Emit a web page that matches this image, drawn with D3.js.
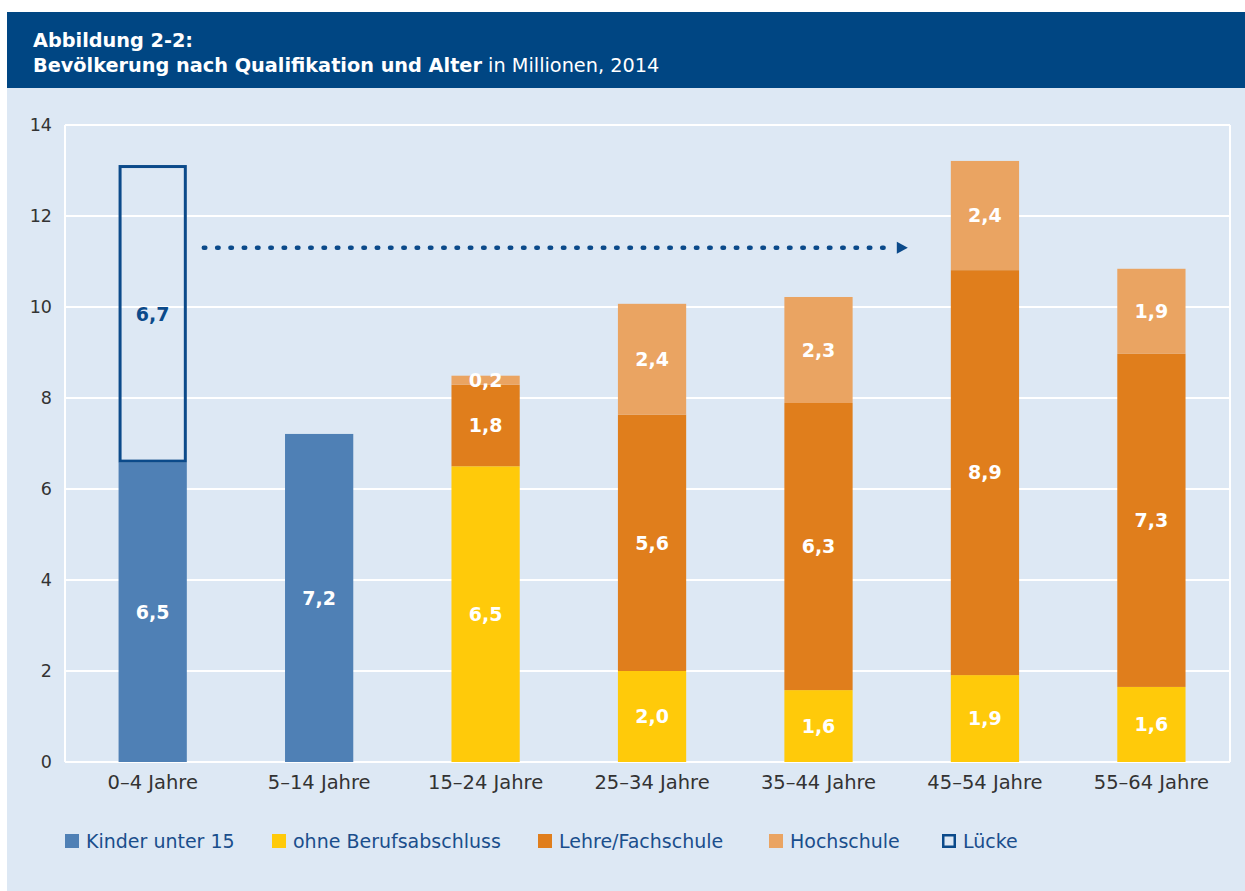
<!DOCTYPE html>
<html><head><meta charset="utf-8">
<script src="https://cdn.jsdelivr.net/npm/d3@7/dist/d3.min.js"></script>
<style>
html,body{margin:0;padding:0;background:#fff;}
svg{display:block;font-family:"DejaVu Sans",Verdana,sans-serif;}
</style></head>
<body><svg id="c" width="1245" height="891"></svg>
<script>
// ---- data ----
const categories = ["0–4 Jahre","5–14 Jahre","15–24 Jahre","25–34 Jahre","35–44 Jahre","45–54 Jahre","55–64 Jahre"];
const kinder      = [6.58, 7.21, 0, 0, 0, 0, 0];
const kinderLbl   = ["6,5","7,2","","","","",""];
const ohne        = [0, 0, 6.5, 2.0, 1.58, 1.91, 1.65];
const ohneLbl     = ["","","6,5","2,0","1,6","1,9","1,6"];
const lehre       = [0, 0, 1.79, 5.63, 6.31, 8.9, 7.32];
const lehreLbl    = ["","","1,8","5,6","6,3","8,9","7,3"];
const hoch        = [0, 0, 0.2, 2.44, 2.33, 2.4, 1.87];
const hochLbl     = ["","","0,2","2,4","2,3","2,4","1,9"];
const luecke      = [6.54, 0, 0, 0, 0, 0, 0];
const lueckeLbl   = ["6,7","","","","","",""];
const yTicks      = [0, 2, 4, 6, 8, 10, 12, 14];
const legendNames = ["Kinder unter 15","ohne Berufsabschluss","Lehre/Fachschule","Hochschule","Lücke"];
const arrowLevel  = 11.3;

(function(){
// ---- style ----
const colors = {kinder:"#4f80b5", ohne:"#ffca0a", lehre:"#e07e1c", hoch:"#eaa462", luecke:"#0b4a8a"};
const svg = d3.select("#c");

// backgrounds
svg.append("rect").attr("x",7).attr("y",88).attr("width",1238).attr("height",803).attr("fill","#dde8f4");
svg.append("rect").attr("x",7).attr("y",12).attr("width",1238).attr("height",76).attr("fill","#004683");
svg.append("text").attr("x",33).attr("y",47).attr("fill","#fff").attr("font-size",19.3).attr("font-weight","bold").text("Abbildung 2-2:");
const t2 = svg.append("text").attr("x",33).attr("y",72).attr("fill","#fff").attr("font-size",19.3);
t2.append("tspan").attr("font-weight","bold").text("Bevölkerung nach Qualifikation und Alter");
t2.append("tspan").text(" in Millionen, 2014");

const pL=65, pR=1230, pT=125, pB=762;
const y = d3.scaleLinear().domain([0,14]).range([pB, pT]);
const x = d3.scaleBand().domain(categories).range([pL+5.3, pR+3.8]).paddingInner(0.59).paddingOuter(0.29);

// grid
const g = svg.append("g");
g.selectAll("line.grid").data(yTicks).join("line")
  .attr("x1",pL).attr("x2",pR).attr("y1",d=>y(d)).attr("y2",d=>y(d))
  .attr("stroke","#fff").attr("stroke-width",2);
g.append("line").attr("x1",pL).attr("x2",pL).attr("y1",pT).attr("y2",pB).attr("stroke","#fff").attr("stroke-width",2);
g.append("line").attr("x1",pR).attr("x2",pR).attr("y1",pT).attr("y2",pB).attr("stroke","#fff").attr("stroke-width",2);

// y axis labels
const ya = svg.append("g").attr("transform",`translate(${pL-13},0)`)
  .call(d3.axisLeft(y).tickValues(yTicks).tickSize(0).tickPadding(0).tickFormat(d=>d));
ya.select(".domain").remove();
ya.selectAll("text").attr("font-size",17.5).attr("fill","#333").attr("font-family","DejaVu Sans, sans-serif");

// x axis labels
const xa = svg.append("g").attr("transform",`translate(0,${pB+10})`)
  .call(d3.axisBottom(x).tickSize(0).tickPadding(0));
xa.select(".domain").remove();
xa.selectAll("text").attr("font-size",19.5).attr("fill","#333").attr("font-family","DejaVu Sans, sans-serif").attr("dy","0.85em");

// stacked bars
const series = [
  {key:"kinder", vals:kinder, lbls:kinderLbl},
  {key:"ohne", vals:ohne, lbls:ohneLbl},
  {key:"lehre", vals:lehre, lbls:lehreLbl},
  {key:"hoch", vals:hoch, lbls:hochLbl},
  {key:"luecke", vals:luecke, lbls:lueckeLbl}
];
const base = categories.map(()=>0);
const segs = [];
series.forEach(s=>{
  categories.forEach((c,i)=>{
    const v=s.vals[i];
    if(v>0){ segs.push({key:s.key,cat:c,y0:base[i],y1:base[i]+v,lbl:s.lbls[i]}); base[i]+=v; }
  });
});
const bw = x.bandwidth();
svg.append("g").selectAll("rect").data(segs.filter(d=>d.key!=="luecke")).join("rect")
  .attr("x",d=>x(d.cat)).attr("width",bw)
  .attr("y",d=>y(d.y1)).attr("height",d=>y(d.y0)-y(d.y1))
  .attr("fill",d=>colors[d.key]);
svg.append("g").selectAll("rect").data(segs.filter(d=>d.key==="luecke")).join("rect")
  .attr("x",d=>x(d.cat)+1.5).attr("width",bw-3)
  .attr("y",d=>y(d.y1)+1.5).attr("height",d=>y(d.y0)-y(d.y1)-3)
  .attr("fill","none").attr("stroke",colors.luecke).attr("stroke-width",3);
svg.append("g").selectAll("text").data(segs).join("text")
  .attr("x",d=>x(d.cat)+bw/2).attr("y",d=>(y(d.y0)+y(d.y1))/2)
  .attr("dy","0.36em").attr("text-anchor","middle").attr("font-size",19).attr("font-weight","bold")
  .attr("fill",d=>d.key==="luecke"?colors.luecke:"#fff").text(d=>d.lbl);

// dotted arrow
const ay = y(arrowLevel);
const ax0 = x(categories[0])+bw+17, ax1 = x(categories[5])-58;
svg.append("line").attr("x1",ax0).attr("x2",ax1).attr("y1",ay).attr("y2",ay)
  .attr("stroke",colors.luecke).attr("stroke-width",4.5).attr("stroke-linecap","round").attr("stroke-dasharray","1.5 11.8");
svg.append("path").attr("d",`M${ax1+4},${ay-6}L${ax1+15},${ay}L${ax1+4},${ay+6}Z`).attr("fill",colors.luecke);

// legend
const legX = [65, 272, 538, 769, 942];
const legKeys = ["kinder","ohne","lehre","hoch","luecke"];
const lg = svg.append("g").attr("transform","translate(0,841)");
legendNames.forEach((n,i)=>{
  const k = legKeys[i];
  if(k==="luecke"){
    lg.append("rect").attr("x",legX[i]+1.25).attr("y",-5.75).attr("width",11.5).attr("height",11.5)
      .attr("fill","none").attr("stroke",colors.luecke).attr("stroke-width",2.5);
  } else {
    lg.append("rect").attr("x",legX[i]).attr("y",-7).attr("width",14).attr("height",14).attr("fill",colors[k]);
  }
  lg.append("text").attr("x",legX[i]+21).attr("y",0).attr("dy","0.35em").attr("font-size",19)
    .attr("fill","#1a4e8c").text(n);
});
})();
</script></body></html>
